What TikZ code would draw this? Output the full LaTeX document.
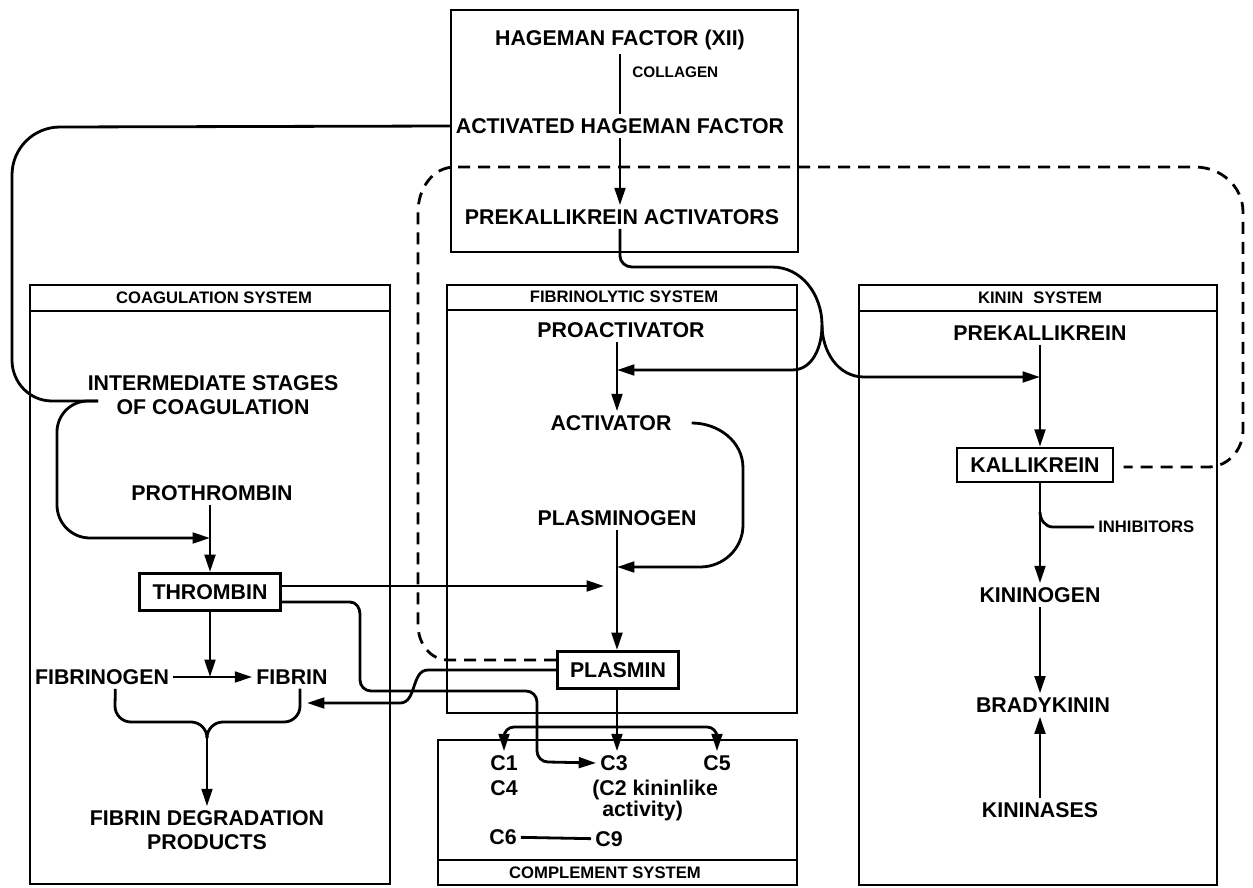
\documentclass[tikz,border=0pt]{standalone}
\usepackage{fontspec}
\setmainfont{Liberation Sans}
\usetikzlibrary{arrows.meta,calc}
\begin{document}
\begin{tikzpicture}[x=0.75pt,y=-0.75pt,
  every node/.style={font=\bfseries\fontsize{16}{18}\selectfont, inner sep=3pt},
  ln/.style={line width=2.1pt},
  arr/.style={ln,-{Triangle[length=13pt,width=8pt]}},
  dsh/.style={line width=2.1pt, dash pattern=on 9pt off 6pt},
  hdr/.style={font=\bfseries\fontsize{12.5}{14}\selectfont},
  small/.style={font=\bfseries\fontsize{11.5}{13}\selectfont},
  boxed/.style={draw, line width=1.9pt, inner xsep=8pt},
  sysbox/.style={line width=2.1pt}
]
\useasboundingbox (0,0) rectangle (1253,888);
\fill[white] (0,0) rectangle (1253,888);

% ---------- top box ----------
\draw[sysbox] (451,10) rectangle (798,252);
\node (hf) at (620,40) {HAGEMAN FACTOR (XII)};
\node[small,anchor=west] (col) at (628,72) {COLLAGEN};
\node (ahf) at (620,126) {ACTIVATED HAGEMAN FACTOR};
\node (pka) at (622,217) {PREKALLIKREIN ACTIVATORS};
\coordinate (tx) at (620,0);
\draw[ln] (hf.south -| tx) -- (ahf.north -| tx);
\draw[arr] (ahf.south -| tx) -- (pka.north -| tx);

% ---------- coagulation system ----------
\draw[sysbox] (30,285) rectangle (390,884);
\draw[sysbox] (30,311) -- (390,311);
\node[hdr] (coh) at (214,298) {COAGULATION SYSTEM};
\node[align=center] (ist) at (213,395) {INTERMEDIATE STAGES\\OF COAGULATION};
\node (pro) at (212,493) {PROTHROMBIN};
\node[boxed, minimum width=106pt, minimum height=28pt] (thr) at (210,592) {THROMBIN};
\node (fgn) at (102,677) {FIBRINOGEN};
\node (fib) at (292,677) {FIBRIN};
\node[align=center] (fdp) at (207,830) {FIBRIN DEGRADATION\\PRODUCTS};
\coordinate (cx) at (210,0);
\coordinate (j1) at (98,401);
\coordinate (jp) at (210,538);
\coordinate (jf) at (210,677);
\coordinate (bj) at (207,738);
\coordinate (jfb) at (307,703);

\draw[arr] (pro.south -| cx) -- (thr.north -| cx);
\draw[ln] (ahf.west) -- (60,127) to[out=180,in=90] (12,175) -- (12,360)
  to[out=-90,in=180] (52,401) -- (j1);
\draw[arr] (j1) -- (88,401) to[out=180,in=90] (57,432) -- (57,505)
  to[out=-90,in=180] (90,538) -- (jp);
\draw[arr] (fgn) -- (fib);
\draw[arr] (thr.south -| cx) -- (jf);
\draw[ln] ([xshift=10pt]fgn.south) -- (115,706) to[out=-90,in=180] (131,722) -- (191,722)
  to[out=0,in=90] (bj);
\draw[ln] ([xshift=6pt]fib.south) -- (300,706) to[out=-90,in=0] (284,722) -- (223,722)
  to[out=180,in=90] (bj);
\draw[arr] (bj) -- (fdp.north -| bj);

% ---------- fibrinolytic system ----------
\draw[sysbox] (447,285) rectangle (797,713);
\draw[sysbox] (447,310) -- (797,310);
\node[hdr] (fbh) at (624,297) {FIBRINOLYTIC SYSTEM};
\node (pac) at (621,330) {PROACTIVATOR};
\node (act) at (611,423) {ACTIVATOR};
\node (plg) at (617,518) {PLASMINOGEN};
\node[boxed, minimum width=91pt, minimum height=28pt] (pls) at (618,670) {PLASMIN};
\coordinate (fx) at (617,0);
\coordinate (j2) at (617,370);
\coordinate (ja) at (617,567);
\coordinate (jt) at (604,586);
\draw[arr] (pac.south -| fx) -- (act.north -| fx);
\draw[arr] (plg.south -| fx) -- (pls.north -| fx);
\draw[arr] ([xshift=12pt]act.east) to[out=0,in=90] (743,468) -- (743,525)
  to[out=-90,in=0] (700,567) -- (ja);
\draw[arr] ([yshift=4.5pt]thr.east) -- (jt);

% ---------- kinin system ----------
\draw[sysbox] (859,285) rectangle (1217,885);
\draw[sysbox] (859,311) -- (1217,311);
\node[hdr] (knh) at (1040,298) {KININ\hspace{0.6em}SYSTEM};
\node (pk) at (1040,333) {PREKALLIKREIN};
\node[boxed, minimum width=117pt, minimum height=25.5pt] (kal) at (1035,465) {KALLIKREIN};
\node (kng) at (1040,595) {KININOGEN};
\node (bk) at (1043,705) {BRADYKININ};
\node (kns) at (1040,810) {KININASES};
\node[small, font=\bfseries\fontsize{12.5}{14}\selectfont, anchor=west] (inh) at (1094,527) {INHIBITORS};
\coordinate (kx) at (1040,0);
\coordinate (j3) at (1040,377);
\coordinate (ki) at (1040,512);
\draw[arr] (pk.south -| kx) -- (kal.north -| kx);
\draw[arr] (kal.south -| kx) -- (kng.north -| kx);
\draw[ln] (ki) to[out=-90,in=180] (1053,527) -- (inh.west);
\draw[arr] (kng.south -| kx) -- (bk.north -| kx);
\draw[arr] (kns.north -| kx) -- (bk.south -| kx);

% ---------- prekallikrein activator fork ----------
\coordinate (fork) at (822,325);
\draw[ln] (pka.south -| tx) -- (620,256) to[out=-90,in=180] (632,267) -- (772,267)
  to[out=0,in=90] (fork);
\draw[arr] (fork) to[out=-90,in=0] (792,370) -- (j2);
\draw[arr] (fork) to[out=-90,in=180] (864,377) -- (j3);

% ---------- complement system ----------
\draw[sysbox] (438,740) rectangle (797,885);
\draw[sysbox] (438,860) -- (797,860);
\node[hdr] (cmh) at (605,873) {COMPLEMENT SYSTEM};
\node (c1) at (504,763) {C1};
\node (c4) at (504,788) {C4};
\node (c3) at (614,763) {C3};
\node (c5) at (717,763) {C5};
\node[anchor=west] (c2a) at (588,790) {(C2 kininlike};
\node[anchor=west] (c2b) at (598,811) {activity)};
\node (c6) at (503,837) {C6};
\node (c9) at (609,839) {C9};
\draw[ln] (c6) -- (c9);
\coordinate (jc) at (617,727);
\draw[arr] (pls.south -| fx) -- (c3.north -| fx);
\draw[arr] (jc) -- (514,727) to[out=180,in=90] (504,737) -- (c1.north);
\draw[arr] (jc) -- (707,727) to[out=0,in=90] (717,737) -- (c5.north);

% ---------- cross-system connectors ----------
\draw[arr] ([yshift=-7.5pt]thr.east) -- (350,602) to[out=0,in=90] (360,614) -- (360,680)
  to[out=-90,in=180] (371,691) -- (526,691) to[out=0,in=90] (537,702) -- (537,751)
  to[out=-90,in=180] (548,762) -- (c3.west);
\draw[arr] (pls.west) -- (428,670) to[out=180,in=0] (400,703) -- (jfb);
\draw[dsh] ([yshift=7.5pt]pls.west) -- (448,660) to[out=180,in=-90] (418,625) -- (418,212)
  to[out=90,in=180] (455,167) -- (1195,167) to[out=0,in=90] (1243,212) -- (1243,430)
  to[out=-90,in=0] (1208,467) -- ([xshift=7pt,yshift=-1.5pt]kal.east);
\end{tikzpicture}
\end{document}
